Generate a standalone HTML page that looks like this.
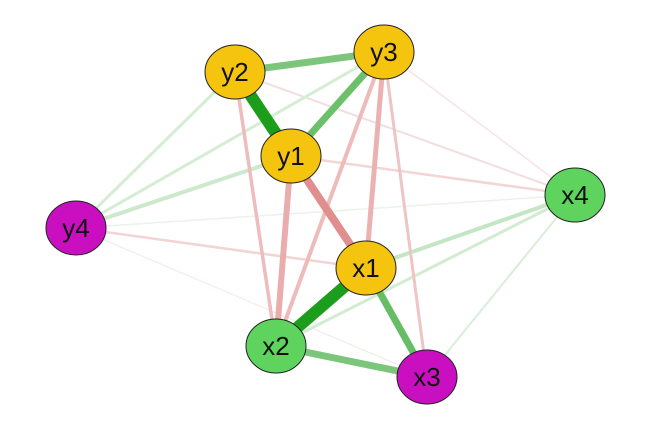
<!DOCTYPE html>
<html><head><meta charset="utf-8"><style>html,body{margin:0;padding:0;background:#fff}svg{display:block}</style></head>
<body>
<svg width="651" height="426" viewBox="0 0 651 426" xmlns="http://www.w3.org/2000/svg">
<g stroke-linecap="butt">
<line x1="76" y1="228" x2="427" y2="377" stroke="#f6e6e6" stroke-width="1"/>
<line x1="384" y1="52" x2="575" y2="195" stroke="#f6e4e4" stroke-width="1.5"/>
<line x1="235" y1="72" x2="575" y2="195" stroke="#f3dede" stroke-width="2"/>
<line x1="76" y1="228" x2="575" y2="195" stroke="#e8f4e8" stroke-width="1.5"/>
<line x1="291" y1="156" x2="575" y2="195" stroke="#f2d6d6" stroke-width="2.5"/>
<line x1="76" y1="228" x2="366" y2="268" stroke="#f2d4d4" stroke-width="2.5"/>
<line x1="575" y1="195" x2="427" y2="377" stroke="#d8eed8" stroke-width="2"/>
<line x1="575" y1="195" x2="276" y2="346" stroke="#d2ecd2" stroke-width="3"/>
<line x1="575" y1="195" x2="366" y2="268" stroke="#c4e6c4" stroke-width="4"/>
<line x1="76" y1="228" x2="235" y2="72" stroke="#d4edd4" stroke-width="3"/>
<line x1="76" y1="228" x2="384" y2="52" stroke="#d4edd4" stroke-width="3"/>
<line x1="76" y1="228" x2="291" y2="156" stroke="#cce9cc" stroke-width="4"/>
<line x1="384" y1="52" x2="427" y2="377" stroke="#eec4c4" stroke-width="3"/>
<line x1="235" y1="72" x2="276" y2="346" stroke="#eebcbc" stroke-width="3.5"/>
<line x1="384" y1="52" x2="276" y2="346" stroke="#eebaba" stroke-width="4"/>
<line x1="384" y1="52" x2="366" y2="268" stroke="#ecb2b2" stroke-width="5"/>
<line x1="291" y1="156" x2="276" y2="346" stroke="#eaadad" stroke-width="6"/>
<line x1="291" y1="156" x2="366" y2="268" stroke="#e08e8e" stroke-width="8"/>
<line x1="235" y1="72" x2="384" y2="52" stroke="#7cc67c" stroke-width="7"/>
<line x1="384" y1="52" x2="291" y2="156" stroke="#6cc06c" stroke-width="7"/>
<line x1="366" y1="268" x2="427" y2="377" stroke="#66bd66" stroke-width="7"/>
<line x1="276" y1="346" x2="427" y2="377" stroke="#7cc67c" stroke-width="7"/>
<line x1="235" y1="72" x2="291" y2="156" stroke="#1c9e1c" stroke-width="12"/>
<line x1="366" y1="268" x2="276" y2="346" stroke="#1c9e1c" stroke-width="12"/>
</g>
<g stroke="#222" stroke-width="1">
<ellipse cx="235" cy="72" rx="30" ry="27" fill="#f5c40f"/>
<ellipse cx="384" cy="52" rx="30" ry="27" fill="#f5c40f"/>
<ellipse cx="291" cy="156" rx="30" ry="27" fill="#f5c40f"/>
<ellipse cx="366" cy="268" rx="30" ry="27" fill="#f5c40f"/>
<ellipse cx="76" cy="228" rx="30" ry="27" fill="#c90fc0"/>
<ellipse cx="427" cy="377" rx="30" ry="27" fill="#c90fc0"/>
<ellipse cx="575" cy="195" rx="30" ry="27" fill="#5ed35e"/>
<ellipse cx="276" cy="346" rx="30" ry="27" fill="#5ed35e"/>
</g>
<g font-family="Liberation Sans, sans-serif" font-size="26" text-anchor="middle" fill="#111">
<text x="235" y="81">y2</text>
<text x="384" y="61">y3</text>
<text x="291" y="165">y1</text>
<text x="366" y="277">x1</text>
<text x="76" y="237">y4</text>
<text x="427" y="386">x3</text>
<text x="575" y="204">x4</text>
<text x="276" y="355">x2</text>
</g>
</svg>
</body></html>
